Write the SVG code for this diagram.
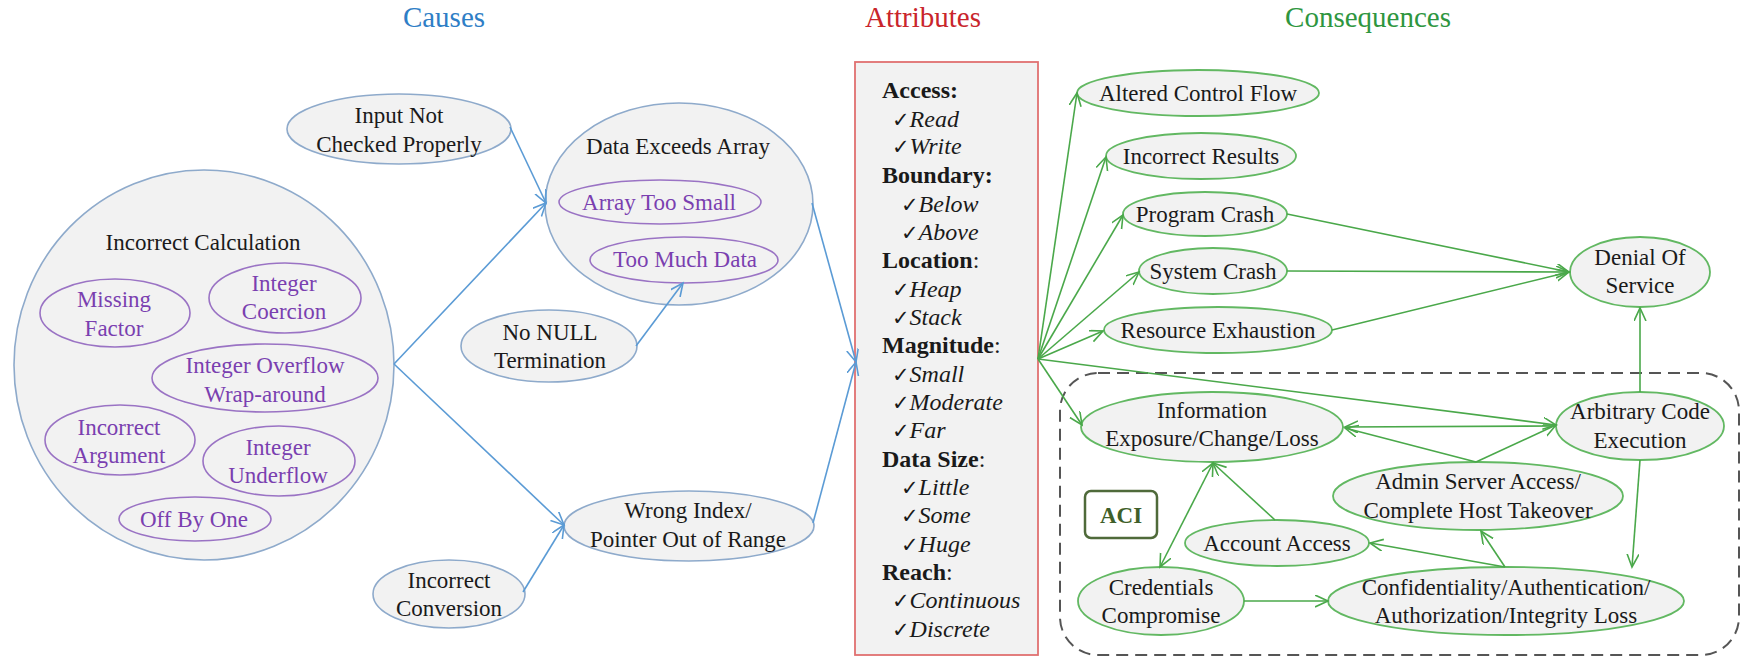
<svg xmlns="http://www.w3.org/2000/svg" width="1743" height="659" viewBox="0 0 1743 659">
<defs>
<style>
text{font-family:"Liberation Serif","Times New Roman",serif;font-size:23px;fill:#1a1a1a;text-anchor:middle}
.title{font-size:29px}
.nb{fill:#f2f2f2;stroke:#8eaacb;stroke-width:1.6}
.np{fill:none;stroke:#9a73c4;stroke-width:1.6}
.ng{fill:#f2f2f2;stroke:#62b862;stroke-width:1.8}
.pt{fill:#7a3fb0}
.lb{stroke:#5b9bd5;stroke-width:1.6;fill:none;marker-end:url(#ab)}
.lg{stroke:#4aa84a;stroke-width:1.6;fill:none;marker-end:url(#ag)}
.at{text-anchor:start;font-size:24px}
.h{font-weight:bold}
.it{font-style:italic}
.ck{font-family:"DejaVu Sans",sans-serif;font-size:21px;font-style:normal}
</style>
<marker id="ab" markerUnits="userSpaceOnUse" markerWidth="16" markerHeight="14" refX="13" refY="6" orient="auto-start-reverse">
<path d="M0,0 L13,6 L0,12" fill="none" stroke="#5b9bd5" stroke-width="1.6"/>
</marker>
<marker id="ag" markerUnits="userSpaceOnUse" markerWidth="16" markerHeight="14" refX="13" refY="6" orient="auto-start-reverse">
<path d="M0,0 L13,6 L0,12" fill="none" stroke="#4aa84a" stroke-width="1.6"/>
</marker>
</defs>
<rect width="1743" height="659" fill="#ffffff"/>

<g id="titles">
<text class="title" x="444" y="27" style="fill:#2e7ec6">Causes</text>
<text class="title" x="923" y="27" style="fill:#c9252b">Attributes</text>
<text class="title" x="1368" y="27" style="fill:#2e9640">Consequences</text>
</g>

<g id="aci-region">
<rect x="1060" y="373" width="679" height="282" rx="38" ry="38" fill="none" stroke="#555555" stroke-width="2" stroke-dasharray="12 7"/>
</g>

<g id="input-not-checked">
<ellipse class="nb" cx="399" cy="129" rx="112" ry="35"/>
<text x="399" y="123">Input Not</text>
<text x="399" y="152">Checked Properly</text>
</g>

<g id="incorrect-calculation">
<ellipse class="nb" cx="204" cy="365" rx="190" ry="195"/>
<text x="203" y="250">Incorrect Calculation</text>
</g>
<g id="missing-factor">
<ellipse class="np" cx="115" cy="313" rx="75" ry="34"/>
<text class="pt" x="114" y="307">Missing</text>
<text class="pt" x="114" y="336">Factor</text>
</g>
<g id="integer-coercion">
<ellipse class="np" cx="285" cy="298" rx="76" ry="35"/>
<text class="pt" x="284" y="291">Integer</text>
<text class="pt" x="284" y="319">Coercion</text>
</g>
<g id="integer-overflow">
<ellipse class="np" cx="265" cy="378" rx="113" ry="34"/>
<text class="pt" x="265" y="373">Integer Overflow</text>
<text class="pt" x="265" y="402">Wrap-around</text>
</g>
<g id="incorrect-argument">
<ellipse class="np" cx="120" cy="440" rx="75" ry="35"/>
<text class="pt" x="119" y="435">Incorrect</text>
<text class="pt" x="119" y="463">Argument</text>
</g>
<g id="integer-underflow">
<ellipse class="np" cx="279" cy="461" rx="76" ry="35"/>
<text class="pt" x="278" y="455">Integer</text>
<text class="pt" x="278" y="483">Underflow</text>
</g>
<g id="off-by-one">
<ellipse class="np" cx="195" cy="519" rx="76" ry="22"/>
<text class="pt" x="194" y="527">Off By One</text>
</g>

<g id="data-exceeds-array">
<ellipse class="nb" cx="679" cy="204" rx="134" ry="101"/>
<text x="678" y="154">Data Exceeds Array</text>
</g>
<g id="array-too-small">
<ellipse class="np" cx="660" cy="202" rx="101" ry="22"/>
<text class="pt" x="659" y="210">Array Too Small</text>
</g>
<g id="too-much-data">
<ellipse class="np" cx="684" cy="260" rx="94" ry="23"/>
<text class="pt" x="685" y="267">Too Much Data</text>
</g>

<g id="no-null-termination">
<ellipse class="nb" cx="549" cy="346" rx="88" ry="36"/>
<text x="550" y="340">No NULL</text>
<text x="550" y="368">Termination</text>
</g>

<g id="wrong-index">
<ellipse class="nb" cx="689" cy="526" rx="125" ry="35"/>
<text x="688" y="518">Wrong Index/</text>
<text x="688" y="547">Pointer Out of Range</text>
</g>

<g id="incorrect-conversion">
<ellipse class="nb" cx="449" cy="594" rx="76" ry="34"/>
<text x="449" y="588">Incorrect</text>
<text x="449" y="616">Conversion</text>
</g>

<g id="attributes">
<rect x="855" y="62" width="183" height="593" fill="#f2f2f2" stroke="#e07070" stroke-width="1.8"/>
<text class="at h" x="882" y="98">Access:</text>
<text class="at it" x="892" y="127"><tspan class="ck">✓</tspan>Read</text>
<text class="at it" x="892" y="154"><tspan class="ck">✓</tspan>Write</text>
<text class="at h" x="882" y="183">Boundary:</text>
<text class="at it" x="901" y="212"><tspan class="ck">✓</tspan>Below</text>
<text class="at it" x="901" y="240"><tspan class="ck">✓</tspan>Above</text>
<text class="at" x="882" y="268"><tspan class="h">Location</tspan>:</text>
<text class="at it" x="892" y="297"><tspan class="ck">✓</tspan>Heap</text>
<text class="at it" x="892" y="325"><tspan class="ck">✓</tspan>Stack</text>
<text class="at" x="882" y="353"><tspan class="h">Magnitude</tspan>:</text>
<text class="at it" x="892" y="382"><tspan class="ck">✓</tspan>Small</text>
<text class="at it" x="892" y="410"><tspan class="ck">✓</tspan>Moderate</text>
<text class="at it" x="892" y="438"><tspan class="ck">✓</tspan>Far</text>
<text class="at" x="882" y="467"><tspan class="h">Data Size</tspan>:</text>
<text class="at it" x="901" y="495"><tspan class="ck">✓</tspan>Little</text>
<text class="at it" x="901" y="523"><tspan class="ck">✓</tspan>Some</text>
<text class="at it" x="901" y="552"><tspan class="ck">✓</tspan>Huge</text>
<text class="at" x="882" y="580"><tspan class="h">Reach</tspan>:</text>
<text class="at it" x="892" y="608"><tspan class="ck">✓</tspan>Continuous</text>
<text class="at it" x="892" y="637"><tspan class="ck">✓</tspan>Discrete</text>
</g>

<g id="altered-control-flow">
<ellipse class="ng" cx="1198" cy="93" rx="121" ry="23"/>
<text x="1198" y="101">Altered Control Flow</text>
</g>
<g id="incorrect-results">
<ellipse class="ng" cx="1201" cy="156" rx="95" ry="23"/>
<text x="1201" y="164">Incorrect Results</text>
</g>
<g id="program-crash">
<ellipse class="ng" cx="1205" cy="214" rx="82" ry="22"/>
<text x="1205" y="222">Program Crash</text>
</g>
<g id="system-crash">
<ellipse class="ng" cx="1213" cy="271" rx="74" ry="23"/>
<text x="1213" y="279">System Crash</text>
</g>
<g id="resource-exhaustion">
<ellipse class="ng" cx="1218" cy="330" rx="114" ry="23"/>
<text x="1218" y="338">Resource Exhaustion</text>
</g>
<g id="denial-of-service">
<ellipse class="ng" cx="1640" cy="272" rx="70" ry="35"/>
<text x="1640" y="265">Denial Of</text>
<text x="1640" y="293">Service</text>
</g>
<g id="information-exposure">
<ellipse class="ng" cx="1212" cy="427" rx="131" ry="35"/>
<text x="1212" y="418">Information</text>
<text x="1212" y="446">Exposure/Change/Loss</text>
</g>
<g id="arbitrary-code-execution">
<ellipse class="ng" cx="1640" cy="426" rx="84" ry="34"/>
<text x="1640" y="419">Arbitrary Code</text>
<text x="1640" y="448">Execution</text>
</g>
<g id="admin-server-access">
<ellipse class="ng" cx="1478" cy="496" rx="145" ry="34"/>
<text x="1478" y="489">Admin Server Access/</text>
<text x="1478" y="518">Complete Host Takeover</text>
</g>
<g id="aci-label">
<rect x="1085" y="491" width="72" height="47" rx="6" ry="6" fill="#ffffff" stroke="#4f6a3a" stroke-width="2.5"/>
<text x="1121" y="523" style="font-weight:bold;fill:#3f5f2a">ACI</text>
</g>
<g id="account-access">
<ellipse class="ng" cx="1277" cy="543" rx="92" ry="23"/>
<text x="1277" y="551">Account Access</text>
</g>
<g id="credentials-compromise">
<ellipse class="ng" cx="1161" cy="601" rx="83" ry="34"/>
<text x="1161" y="595">Credentials</text>
<text x="1161" y="623">Compromise</text>
</g>
<g id="confidentiality-loss">
<ellipse class="ng" cx="1506" cy="601" rx="178" ry="34"/>
<text x="1506" y="595">Confidentiality/Authentication/</text>
<text x="1506" y="623">Authorization/Integrity Loss</text>
</g>

<g id="connectors">
<path class="lb" d="M510,127 L546,203"/>
<path class="lb" d="M394,364 L546,203"/>
<path class="lb" d="M394,364 L564,525"/>
<path class="lb" d="M636,346 L683,283"/>
<path class="lb" d="M812,203 L856,362"/>
<path class="lb" d="M813,523 L856,362"/>
<path class="lb" d="M523,592 L564,525"/>
<path class="lg" d="M1038,359 L1077,93"/>
<path class="lg" d="M1038,359 L1106,157"/>
<path class="lg" d="M1038,359 L1123,215"/>
<path class="lg" d="M1038,359 L1139,272"/>
<path class="lg" d="M1038,359 L1103,331"/>
<path class="lg" d="M1038,359 L1082,425"/>
<path class="lg" d="M1038,359 L1556,425"/>
<path class="lg" d="M1287,214 L1569,272"/>
<path class="lg" d="M1287,271 L1569,272"/>
<path class="lg" d="M1332,330 L1569,272"/>
<path class="lg" d="M1640,392 L1640,308"/>
<path class="lg" d="M1556,426 L1345,427"/>
<path class="lg" d="M1476,462 L1345,428"/>
<path class="lg" d="M1476,462 L1556,425"/>
<path class="lg" d="M1640,460 L1632,567"/>
<path class="lg" d="M1505,567 L1481,531"/>
<path class="lg" d="M1505,567 L1370,543"/>
<path class="lg" d="M1275,520 L1213,463"/>
<path class="lg" d="M1213,463 L1160,567" style="marker-start:url(#ag)"/>
<path class="lg" d="M1244,601 L1328,601"/>
</g>
</svg>
